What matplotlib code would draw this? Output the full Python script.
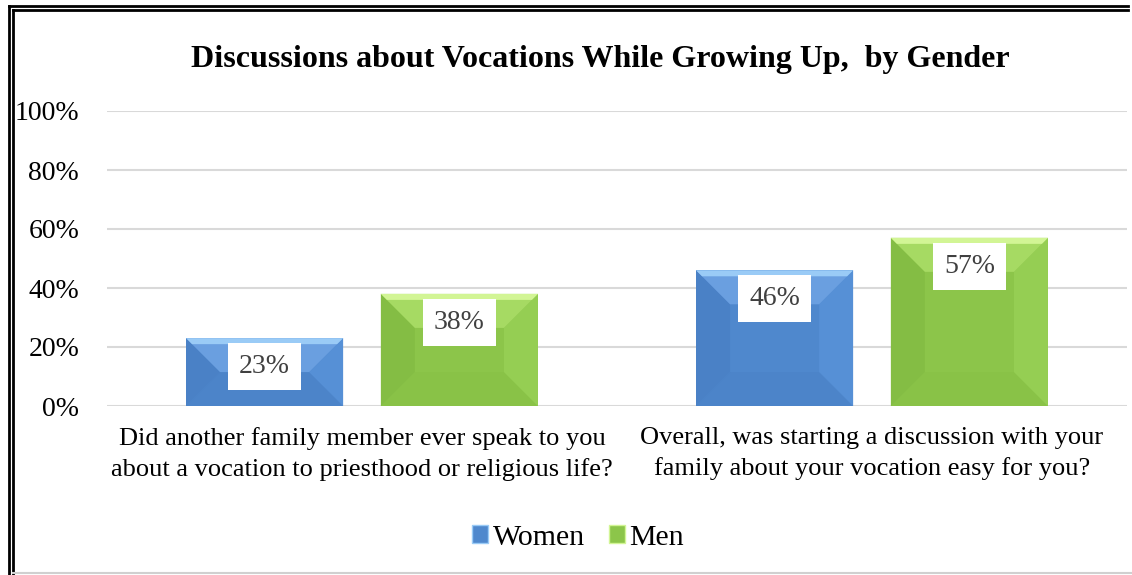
import numpy as np
import matplotlib
matplotlib.use("Agg")
import matplotlib.pyplot as plt
from matplotlib.patches import Polygon, Patch
from matplotlib.lines import Line2D
from matplotlib.ticker import PercentFormatter

plt.rcParams['font.family'] = ['Liberation Serif', 'DejaVu Serif']

# Data
categories = ["Did another family member ever speak to you\nabout a vocation to priesthood or religious life?",
              "Overall, was starting a discussion with your\nfamily about your vocation easy for you?"]
series_names = ["Women", "Men"]
women = [0.23, 0.46]
men = [0.38, 0.57]
yticks = [0, 0.2, 0.4, 0.6, 0.8, 1.0]

# colours: (base, top bevel, left bevel, right bevel, bottom bevel, top edge)
blue = ("#4F88CD", "#6A9FE0", "#4A81C6", "#5690D6", "#4C84C9", "#9ACBF6")
green = ("#8CC54A", "#A6DA63", "#84BD44", "#95CE53", "#89C247", "#D2F595")

W, H = 1132, 575
fig = plt.figure(figsize=(W / 100, H / 100), dpi=100)
ax_l, ax_r, ax_t, ax_b = 107, 1127, 111, 406
ax = fig.add_axes([ax_l / W, 1 - ax_b / H, (ax_r - ax_l) / W, (ax_b - ax_t) / H])

x = np.arange(len(categories))
bw = 0.308
off = 0.191
ax.set_xlim(-0.5, len(categories) - 0.5)
ax.set_ylim(0, 1.0)

# pixel -> data scale for bevel depth
px_x = (len(categories)) / (ax_r - ax_l)
px_y = 1.0 / (ax_b - ax_t)
depth = 34


def bevel_bar(xc, h, cols):
    x0, x1 = xc - bw / 2, xc + bw / 2
    dx = depth * px_x
    dy = min(depth * px_y, h / 2)
    ax.bar(xc, h, bw, color=cols[0], zorder=2, edgecolor="none")
    top = [(x0, h), (x1, h), (x1 - dx, h - dy), (x0 + dx, h - dy)]
    left = [(x0, 0), (x0, h), (x0 + dx, h - dy), (x0 + dx, dy)]
    right = [(x1, 0), (x1, h), (x1 - dx, h - dy), (x1 - dx, dy)]
    bottom = [(x0, 0), (x1, 0), (x1 - dx, dy), (x0 + dx, dy)]
    e = 6
    edge = [(x0, h), (x1, h), (x1 - e * px_x, h - e * px_y), (x0 + e * px_x, h - e * px_y)]
    for poly, c in ((bottom, cols[4]), (left, cols[2]), (right, cols[3]), (top, cols[1]), (edge, cols[5])):
        ax.add_patch(Polygon(poly, closed=True, facecolor=c, edgecolor="none", zorder=3))
    ax.annotate(f"{round(h * 100)}%", (xc, h), xytext=(0, -20.5), textcoords="offset points",
                ha="center", va="center", fontsize=20, color="#404040", zorder=5,
                bbox=dict(boxstyle="square,pad=0.4", facecolor="white", edgecolor="none"))


for i in range(len(categories)):
    bevel_bar(x[i] - off, women[i], blue)
    bevel_bar(x[i] + off, men[i], green)

ax.set_yticks(yticks)
ax.yaxis.set_major_formatter(PercentFormatter(1.0, decimals=0))
ax.set_xticks(x)
ax.set_xticklabels(categories, linespacing=1.45)
ax.tick_params(axis="x", length=0, labelsize=19, pad=15)
ax.tick_params(axis="y", length=0, labelsize=20, pad=20)
ax.grid(axis="y", color="#D9D9D9", linewidth=1.5, zorder=0)
ax.set_axisbelow(True)
for s in ax.spines.values():
    s.set_visible(False)

fig.text(600 / W, 1 - 60 / H, "Discussions about Vocations While Growing Up,  by Gender",
         ha="center", va="center", fontsize=23, fontweight="bold")

handles = [Patch(facecolor=blue[0], edgecolor=blue[5], label=series_names[0]),
           Patch(facecolor=green[0], edgecolor=green[5], label=series_names[1])]
fig.legend(handles=handles, loc="center", bbox_to_anchor=(578 / W, 1 - 538 / H), ncol=2,
           frameon=False, fontsize=21.5, handlelength=0.55, handleheight=0.55,
           handletextpad=0.15, columnspacing=0.8)

# double border (top and left) and grey bottom line
for xs, ys in (([9, 9], [575, 6]), ([13, 13], [575, 10]), ([9, 1128], [6, 6]), ([13, 1128], [10, 10])):
    fig.add_artist(Line2D([v / W for v in xs], [1 - v / H for v in ys], color="black", linewidth=2.0))
fig.add_artist(Line2D([13 / W, 1132 / W], [1 - 573 / H, 1 - 573 / H], color="#D0D0D0", linewidth=1.5))

fig.savefig("out.png", dpi=100)
